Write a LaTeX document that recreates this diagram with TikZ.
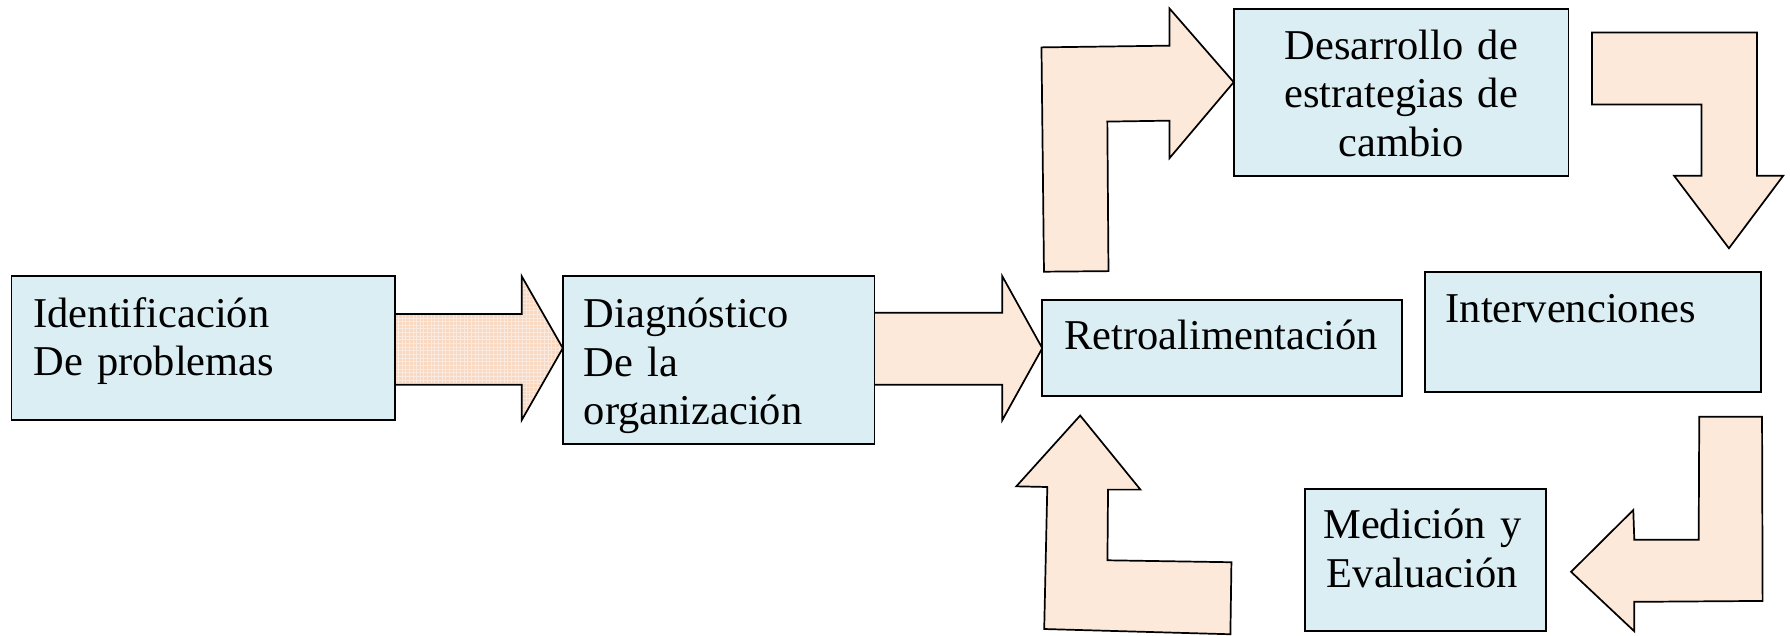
\documentclass[tikz,border=0pt]{standalone}
\usepackage{fontspec}
\setmainfont{Liberation Serif}
\definecolor{boxblue}{RGB}{218,238,243}
\definecolor{arrowpeach}{RGB}{253,233,217}
\definecolor{texpeach}{RGB}{249,216,194}
\begin{document}
\begin{tikzpicture}[x=0.5pt,y=-0.5pt,
  box/.style={draw=black, line width=0.8pt, fill=boxblue, inner sep=0pt},
  lbl/.style={inner sep=0pt, font=\fontsize{18.6}{21.25}\selectfont, text width=#1},
  blockarrow/.style={draw=black, line width=0.75pt, fill=arrowpeach, line join=miter},
]
\useasboundingbox (0,0) rectangle (1568,557);

% ---- block arrows ----
% textured arrow between the first two boxes
\path[fill=texpeach] (346,275) -- (457,275) -- (457,242) -- (493,305)
  -- (457,368) -- (457,337) -- (346,337) -- cycle;
\begin{scope}
  \clip (346,275) -- (457,275) -- (457,242) -- (493,305)
    -- (457,368) -- (457,337) -- (346,337) -- cycle;
  \draw[white, opacity=0.45, line width=0.25pt] (340,236) grid[step=1.6pt] (500,374);
\end{scope}
\draw[line width=0.75pt, line join=miter] (346,275) -- (457,275) -- (457,242) -- (493,305)
  -- (457,368) -- (457,337) -- (346,337);

% straight arrow into the feedback box
\draw[blockarrow] (766,274) -- (878,274) -- (878,242) -- (913,305)
  -- (878,368) -- (878,337) -- (766,337);

% bent arrow: up, then right into the strategies box
\draw[blockarrow] (914.5,238) -- (912.3,41.5) -- (1024.5,40) -- (1024.5,7.5)
  -- (1080.7,72) -- (1024.5,138.5) -- (1024.5,105.7) -- (970,106.5)
  -- (971,237.5) -- cycle;

% bent arrow: right, then down into the interventions box
\draw[blockarrow] (1394.5,28.5) -- (1539,28.5) -- (1539,154) -- (1562,154)
  -- (1514.5,217.5) -- (1466.5,154) -- (1490.5,154) -- (1490.5,91.5)
  -- (1394.5,91.5) -- cycle;

% bent arrow: down, then left into the measurement box
\draw[blockarrow] (1488.5,365) -- (1543.5,365) -- (1544,526.4) -- (1431.6,527.2)
  -- (1431.6,553) -- (1376.2,500.9) -- (1430.7,446.8) -- (1431.6,472.8)
  -- (1488,472.8) -- cycle;

% bent arrow: left, then up into the feedback box
\draw[blockarrow] (1078.7,492.5) -- (1077.8,555.6) -- (914.7,551) -- (917.4,426.6)
  -- (890.3,426) -- (946.2,364) -- (999,428.9) -- (970.6,428.9)
  -- (970.1,490.8) -- cycle;

% ---- boxes ----
\node[box, minimum width=168pt,  minimum height=63pt]   (ident) at (178,305)    {};
\node[box, minimum width=136.5pt, minimum height=73.5pt] (diag)  at (629.5,315.5) {};
\node[box, minimum width=157.5pt, minimum height=42pt]  (retro) at (1070.5,305)  {};
\node[box, minimum width=147pt,  minimum height=52.3pt] (inter) at (1395.5,290.8) {};
\node[box, minimum width=146.5pt, minimum height=73pt]  (desa)  at (1227.5,81)   {};
\node[box, minimum width=105.5pt, minimum height=62.5pt] (medi) at (1248.5,490.5) {};

% ---- texts ----
\node[lbl=150pt, align=left, anchor=base west]  (identtxt) at (29,286.5)  {Identificación\\De problemas};
\node[lbl=125pt, align=left, anchor=base west]  (diagtxt)  at (511,287)   {Diagnóstico\\De la\\organización};
\node[lbl=145pt, align=left, anchor=base west]  (retrotxt) at (932,306.5) {Retroalimentación};
\node[lbl=135pt, align=left, anchor=base west]  (intertxt) at (1266,282.7) {Intervenciones};
\node[lbl=140pt, align=center, anchor=base]     (desatxt)  at (1227.5,52) {Desarrollo de\\estrategias de\\cambio};
\node[lbl=100pt, align=center, anchor=base]     (meditxt)  at (1246,472)  {Medición y\\Evaluación};
\end{tikzpicture}
\end{document}
